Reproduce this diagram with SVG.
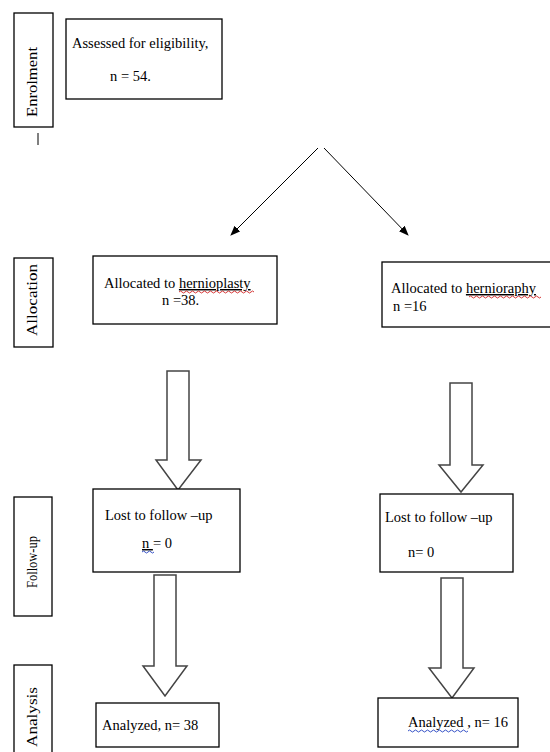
<svg xmlns="http://www.w3.org/2000/svg" width="550" height="752" viewBox="0 0 550 752">
<style>
.box{fill:#fff;stroke:#000;stroke-width:1.3}
.lbl{fill:#fff;stroke:#000;stroke-width:1.3}
.t{font-family:"Liberation Serif","Times New Roman",serif;font-size:14.5px;fill:#000}
.v{font-family:"Liberation Serif","Times New Roman",serif;font-size:14px;fill:#000}
.blk{fill:#fff;stroke:#444;stroke-width:1.5;stroke-linejoin:miter}
.thin{stroke:#000;stroke-width:1;fill:none}
.sqr{fill:none;stroke:#d02020;stroke-width:0.9}
.sqb{fill:none;stroke:#2040c0;stroke-width:0.9}
</style>
<defs>
<marker id="ah" markerWidth="10" markerHeight="8" refX="9" refY="4" orient="auto" markerUnits="userSpaceOnUse">
<path d="M0,0 L10,4 L0,8 Z" fill="#000"/>
</marker>
</defs>
<rect width="550" height="752" fill="#fff"/>

<g id="stage-labels">
<g id="lbl-enrolment">
<rect class="lbl" x="14" y="13" width="39" height="114"/>
<text class="v" transform="translate(37,82) rotate(-90)" text-anchor="middle" textLength="70" lengthAdjust="spacingAndGlyphs">Enrolment</text>
<line x1="38" y1="133" x2="38" y2="145" stroke="#000" stroke-width="1"/>
</g>
<g id="lbl-allocation">
<rect class="lbl" x="14" y="258" width="39" height="89"/>
<text class="v" transform="translate(37,300) rotate(-90)" text-anchor="middle" textLength="72" lengthAdjust="spacingAndGlyphs">Allocation</text>
</g>
<g id="lbl-followup">
<rect class="lbl" x="14" y="497" width="38" height="119"/>
<text class="v" transform="translate(37,562) rotate(-90)" text-anchor="middle" textLength="52" lengthAdjust="spacingAndGlyphs">Follow-up</text>
</g>
<g id="lbl-analysis">
<rect class="lbl" x="14" y="665" width="38" height="100"/>
<text class="v" transform="translate(37,717) rotate(-90)" text-anchor="middle" textLength="60" lengthAdjust="spacingAndGlyphs">Analysis</text>
</g>
</g>

<g id="connectors">
<line class="thin" x1="318" y1="148" x2="231" y2="235" marker-end="url(#ah)"/>
<line class="thin" x1="324" y1="148" x2="408" y2="235" marker-end="url(#ah)"/>
<path class="blk" d="M167,371 H189 V460 H201 L178,490 L156,460 H167 Z"/>
<path class="blk" d="M450,383 H472 V465 H483 L461,492 L439,465 H450 Z"/>
<path class="blk" d="M154,575 H176 V666 H187 L165,696 L143,666 H154 Z"/>
<path class="blk" d="M441,578 H463 V668 H474 L452,698 L429,668 H441 Z"/>
</g>

<g id="node-assessed">
<rect class="box" x="66" y="19" width="156" height="80"/>
<text class="t" x="72" y="48">Assessed for eligibility,</text>
<text class="t" x="110" y="81">n = 54.</text>
</g>

<g id="node-hernioplasty">
<rect class="box" x="93" y="256" width="184" height="68"/>
<text class="t" x="104" y="288" font-size="15">Allocated to <tspan text-decoration="underline">hernioplasty</tspan></text>
<path class="sqr" d="M179,292 q1.5,-2 3,0 t3,0 t3,0 t3,0 t3,0 t3,0 t3,0 t3,0 t3,0 t3,0 t3,0 t3,0 t3,0 t3,0 t3,0 t3,0 t3,0 t3,0 t3,0 t3,0 t3,0 t3,0 t3,0 t3,0 t3,0"/>
<text class="t" x="162" y="305" font-size="15">n =38.</text>
</g>

<g id="node-herniorraphy">
<rect class="box" x="382" y="262" width="170" height="65"/>
<text class="t" x="391" y="293" font-size="15">Allocated to <tspan text-decoration="underline">hernioraphy</tspan></text>
<path class="sqr" d="M469,297 q1.5,-2 3,0 t3,0 t3,0 t3,0 t3,0 t3,0 t3,0 t3,0 t3,0 t3,0 t3,0 t3,0 t3,0 t3,0 t3,0 t3,0 t3,0 t3,0 t3,0 t3,0 t3,0 t3,0 t3,0 t3,0"/>
<text class="t" x="393" y="311" font-size="15">n =16</text>
</g>

<g id="node-lost-left">
<rect class="box" x="93" y="489" width="147" height="83"/>
<text class="t" x="105" y="520">Lost to follow –up</text>
<text class="t" x="142" y="548"><tspan text-decoration="underline">n </tspan>= 0</text>
<path class="sqb" d="M142,552 q1.5,-2 3,0 t3,0 t3,0 t3,0"/>
</g>

<g id="node-lost-right">
<rect class="box" x="380" y="494" width="133" height="78"/>
<text class="t" x="385" y="522">Lost to follow –up</text>
<text class="t" x="408" y="557">n= 0</text>
</g>

<g id="node-analyzed-left">
<rect class="box" x="96" y="703" width="123" height="44"/>
<text class="t" x="102" y="730">Analyzed, n= 38</text>
</g>

<g id="node-analyzed-right">
<rect class="box" x="378" y="698" width="140" height="49"/>
<text class="t" x="408" y="727">Analyzed , n= 16</text>
<path class="sqb" d="M408,731 q1.5,-2 3,0 t3,0 t3,0 t3,0 t3,0 t3,0 t3,0 t3,0 t3,0 t3,0 t3,0 t3,0 t3,0 t3,0 t3,0 t3,0 t3,0 t3,0 t3,0 t3,0"/>
</g>
</svg>
